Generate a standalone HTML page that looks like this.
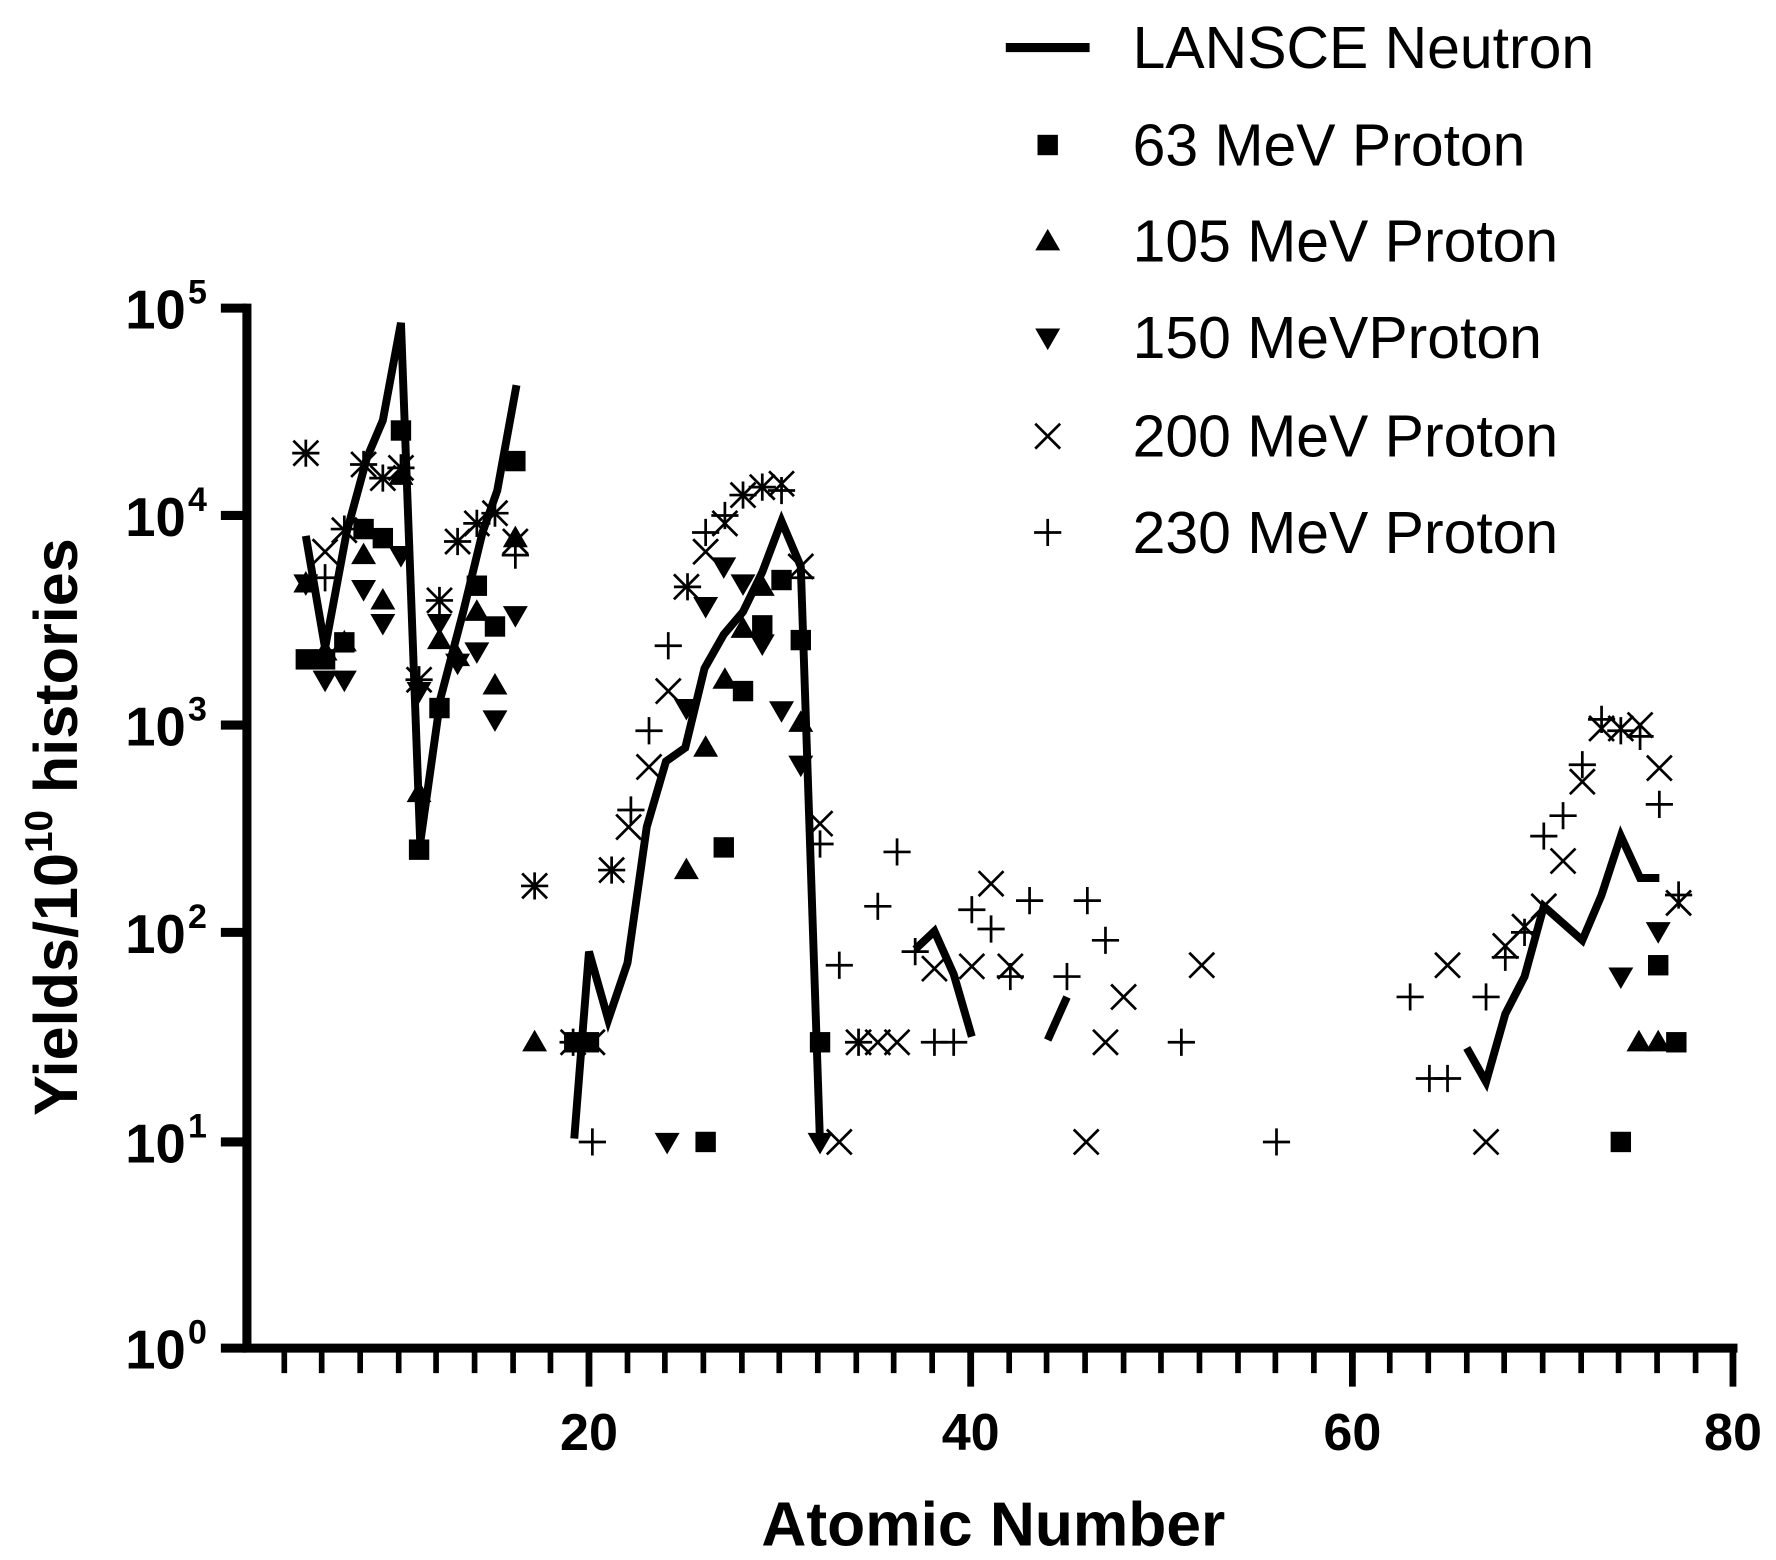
<!DOCTYPE html>
<html><head><meta charset="utf-8"><style>
html,body{margin:0;padding:0;background:#fff;}
svg{display:block;}
text{font-family:"Liberation Sans",Arial,sans-serif;fill:#000;}
</style></head><body>
<svg width="1776" height="1560" viewBox="0 0 1568 1377" preserveAspectRatio="none" xmlns="http://www.w3.org/2000/svg">
<defs>
<rect id="sq" x="-9" y="-9" width="18" height="18" fill="#000"/>
<path id="tu" d="M0,-11 L11,8 L-11,8Z" fill="#000"/>
<path id="td" d="M0,11 L11,-8 L-11,-8Z" fill="#000"/>
<path id="xx" d="M-11,-11 L11,11 M-11,11 L11,-11" stroke="#000" stroke-width="2.4" fill="none"/>
<path id="pl" d="M-12,0 L12,0 M0,-12 L0,12" stroke="#000" stroke-width="2.4" fill="none"/>
</defs>
<g stroke="#000" fill="none">
<path d="M218,268 L218,1194 M214,1190 L1534,1190" stroke-width="8"/>
<path d="M195,272H218 M195,455H218 M195,640H218 M195,823H218 M195,1008H218 M195,1190H218" stroke-width="8"/>
<path stroke-width="5" d="M251,1190V1212 M284,1190V1212 M318,1190V1212 M352,1190V1212 M385,1190V1212 M419,1190V1212 M453,1190V1212 M486,1190V1212 M554,1190V1212 M587,1190V1212 M621,1190V1212 M655,1190V1212 M688,1190V1212 M722,1190V1212 M756,1190V1212 M789,1190V1212 M823,1190V1212 M891,1190V1212 M924,1190V1212 M958,1190V1212 M992,1190V1212 M1025,1190V1212 M1059,1190V1212 M1093,1190V1212 M1126,1190V1212 M1160,1190V1212 M1227,1190V1212 M1261,1190V1212 M1295,1190V1212 M1328,1190V1212 M1362,1190V1212 M1396,1190V1212 M1429,1190V1212 M1463,1190V1212 M1497,1190V1212"/>
<path stroke-width="6" d="M520,1190V1224 M857,1190V1224 M1194,1190V1224 M1530,1190V1224"/>
</g>
<g font-size="48" font-weight="bold" text-anchor="end">
<text x="164" y="290">10</text><text x="166" y="268" font-size="30" text-anchor="start">5</text>
<text x="164" y="473">10</text><text x="166" y="451" font-size="30" text-anchor="start">4</text>
<text x="164" y="658">10</text><text x="166" y="636" font-size="30" text-anchor="start">3</text>
<text x="164" y="841">10</text><text x="166" y="819" font-size="30" text-anchor="start">2</text>
<text x="164" y="1026">10</text><text x="166" y="1004" font-size="30" text-anchor="start">1</text>
<text x="164" y="1208">10</text><text x="166" y="1186" font-size="30" text-anchor="start">0</text>
</g>
<g font-size="46" font-weight="bold" text-anchor="middle">
<text x="520" y="1280">20</text><text x="857" y="1280">40</text><text x="1194" y="1280">60</text><text x="1530" y="1280">80</text>
</g>
<text x="877" y="1364" font-size="55" font-weight="bold" text-anchor="middle">Atomic Number</text>
<text transform="translate(68,730) rotate(-90)" font-size="54" font-weight="bold" text-anchor="middle">Yields/10<tspan font-size="34" dy="-22">10</tspan><tspan dy="22"> histories</tspan></text>
<g stroke="#000" stroke-width="7" fill="none" stroke-linejoin="miter">
<polyline points="270,473 287,572 306,470 324,404 338,371 354,285 371,744 389,616 409,540 426,470 439,433 456,340"/>
<polyline points="507,1005 520,840 537,900 554,850 571,730 588,672 605,660 622,590 639,560 656,540 673,505 690,460 707,500 724,1010"/>
<polyline points="808,838 825,822 842,860 858,915"/>
<polyline points="925,918 942,880"/>
<polyline points="1295,925 1312,955 1329,895 1346,862 1363,800 1380,815 1397,830 1414,790 1431,738 1448,775 1465,775"/>
</g>
<g>
<use href="#sq" x="270" y="582"/><use href="#sq" x="287" y="582"/><use href="#sq" x="304" y="567"/><use href="#sq" x="321" y="467"/><use href="#sq" x="338" y="475"/><use href="#sq" x="354" y="380"/><use href="#sq" x="370" y="750"/><use href="#sq" x="388" y="625"/><use href="#sq" x="421" y="517"/><use href="#sq" x="437" y="553"/><use href="#sq" x="455" y="407"/><use href="#sq" x="507" y="920"/><use href="#sq" x="520" y="920"/><use href="#sq" x="623" y="1008"/><use href="#sq" x="639" y="748"/><use href="#sq" x="656" y="610"/><use href="#sq" x="673" y="552"/><use href="#sq" x="690" y="512"/><use href="#sq" x="707" y="565"/><use href="#sq" x="724" y="920"/><use href="#sq" x="1431" y="1008"/><use href="#sq" x="1464" y="852"/><use href="#sq" x="1480" y="920"/>
</g>
<g>
<use href="#tu" x="270" y="515"/><use href="#tu" x="287" y="575"/><use href="#tu" x="304" y="567"/><use href="#tu" x="321" y="490"/><use href="#tu" x="338" y="530"/><use href="#tu" x="354" y="420"/><use href="#tu" x="370" y="700"/><use href="#tu" x="388" y="565"/><use href="#tu" x="404" y="580"/><use href="#tu" x="421" y="540"/><use href="#tu" x="437" y="605"/><use href="#tu" x="455" y="475"/><use href="#tu" x="472" y="920"/><use href="#tu" x="606" y="768"/><use href="#tu" x="623" y="660"/><use href="#tu" x="640" y="600"/><use href="#tu" x="656" y="555"/><use href="#tu" x="673" y="518"/><use href="#tu" x="707" y="638"/><use href="#tu" x="1447" y="920"/><use href="#tu" x="1464" y="920"/>
</g>
<g>
<use href="#td" x="270" y="515"/><use href="#td" x="287" y="600"/><use href="#td" x="304" y="600"/><use href="#td" x="321" y="520"/><use href="#td" x="338" y="550"/><use href="#td" x="354" y="490"/><use href="#td" x="370" y="610"/><use href="#td" x="388" y="550"/><use href="#td" x="404" y="585"/><use href="#td" x="421" y="575"/><use href="#td" x="437" y="635"/><use href="#td" x="455" y="543"/><use href="#td" x="589" y="1008"/><use href="#td" x="606" y="625"/><use href="#td" x="623" y="535"/><use href="#td" x="639" y="500"/><use href="#td" x="656" y="515"/><use href="#td" x="673" y="568"/><use href="#td" x="690" y="627"/><use href="#td" x="707" y="675"/><use href="#td" x="724" y="1008"/><use href="#td" x="1431" y="862"/><use href="#td" x="1464" y="822"/>
</g>
<g>
<use href="#xx" x="270" y="400"/><use href="#xx" x="287" y="487"/><use href="#xx" x="304" y="468"/><use href="#xx" x="321" y="410"/><use href="#xx" x="338" y="422"/><use href="#xx" x="354" y="413"/><use href="#xx" x="370" y="600"/><use href="#xx" x="388" y="530"/><use href="#xx" x="404" y="478"/><use href="#xx" x="421" y="462"/><use href="#xx" x="437" y="453"/><use href="#xx" x="455" y="478"/><use href="#xx" x="472" y="782"/><use href="#xx" x="506" y="920"/><use href="#xx" x="523" y="920"/><use href="#xx" x="540" y="768"/><use href="#xx" x="555" y="730"/><use href="#xx" x="573" y="677"/><use href="#xx" x="590" y="610"/><use href="#xx" x="606" y="518"/><use href="#xx" x="623" y="487"/><use href="#xx" x="640" y="462"/><use href="#xx" x="656" y="437"/><use href="#xx" x="673" y="430"/><use href="#xx" x="690" y="427"/><use href="#xx" x="707" y="500"/><use href="#xx" x="724" y="727"/><use href="#xx" x="741" y="1008"/><use href="#xx" x="758" y="920"/><use href="#xx" x="775" y="920"/><use href="#xx" x="792" y="920"/><use href="#xx" x="825" y="855"/><use href="#xx" x="858" y="853"/><use href="#xx" x="875" y="780"/><use href="#xx" x="892" y="853"/><use href="#xx" x="959" y="1008"/><use href="#xx" x="976" y="920"/><use href="#xx" x="992" y="880"/><use href="#xx" x="1061" y="852"/><use href="#xx" x="1278" y="852"/><use href="#xx" x="1312" y="1008"/><use href="#xx" x="1329" y="835"/><use href="#xx" x="1346" y="818"/><use href="#xx" x="1363" y="800"/><use href="#xx" x="1380" y="760"/><use href="#xx" x="1397" y="690"/><use href="#xx" x="1414" y="643"/><use href="#xx" x="1431" y="643"/><use href="#xx" x="1448" y="640"/><use href="#xx" x="1465" y="678"/><use href="#xx" x="1482" y="797"/>
</g>
<g>
<use href="#pl" x="270" y="400"/><use href="#pl" x="287" y="510"/><use href="#pl" x="304" y="467"/><use href="#pl" x="321" y="410"/><use href="#pl" x="338" y="422"/><use href="#pl" x="354" y="413"/><use href="#pl" x="370" y="600"/><use href="#pl" x="388" y="530"/><use href="#pl" x="404" y="478"/><use href="#pl" x="421" y="462"/><use href="#pl" x="437" y="453"/><use href="#pl" x="455" y="490"/><use href="#pl" x="472" y="782"/><use href="#pl" x="506" y="920"/><use href="#pl" x="523" y="1008"/><use href="#pl" x="540" y="768"/><use href="#pl" x="557" y="715"/><use href="#pl" x="573" y="645"/><use href="#pl" x="590" y="570"/><use href="#pl" x="607" y="518"/><use href="#pl" x="623" y="470"/><use href="#pl" x="640" y="455"/><use href="#pl" x="656" y="437"/><use href="#pl" x="673" y="430"/><use href="#pl" x="690" y="433"/><use href="#pl" x="707" y="510"/><use href="#pl" x="724" y="745"/><use href="#pl" x="741" y="852"/><use href="#pl" x="758" y="920"/><use href="#pl" x="775" y="800"/><use href="#pl" x="792" y="752"/><use href="#pl" x="808" y="840"/><use href="#pl" x="825" y="920"/><use href="#pl" x="842" y="920"/><use href="#pl" x="858" y="803"/><use href="#pl" x="875" y="820"/><use href="#pl" x="892" y="862"/><use href="#pl" x="909" y="795"/><use href="#pl" x="942" y="862"/><use href="#pl" x="960" y="795"/><use href="#pl" x="976" y="830"/><use href="#pl" x="1043" y="920"/><use href="#pl" x="1127" y="1008"/><use href="#pl" x="1245" y="880"/><use href="#pl" x="1262" y="952"/><use href="#pl" x="1278" y="952"/><use href="#pl" x="1312" y="880"/><use href="#pl" x="1329" y="845"/><use href="#pl" x="1346" y="823"/><use href="#pl" x="1363" y="738"/><use href="#pl" x="1380" y="720"/><use href="#pl" x="1397" y="675"/><use href="#pl" x="1414" y="635"/><use href="#pl" x="1431" y="645"/><use href="#pl" x="1448" y="650"/><use href="#pl" x="1465" y="710"/><use href="#pl" x="1482" y="790"/>
</g>
<path d="M888,42 H962" stroke="#000" stroke-width="8"/>
<use href="#sq" x="925" y="128"/>
<use href="#tu" x="925" y="213"/>
<use href="#td" x="925" y="298"/>
<use href="#xx" x="925" y="385"/>
<use href="#pl" x="925" y="470"/>
<g font-size="52">
<text x="1000" y="60">LANSCE Neutron</text>
<text x="1000" y="146">63 MeV Proton</text>
<text x="1000" y="231">105 MeV Proton</text>
<text x="1000" y="316">150 MeVProton</text>
<text x="1000" y="403">200 MeV Proton</text>
<text x="1000" y="488">230 MeV Proton</text>
</g>
</svg>
</body></html>
